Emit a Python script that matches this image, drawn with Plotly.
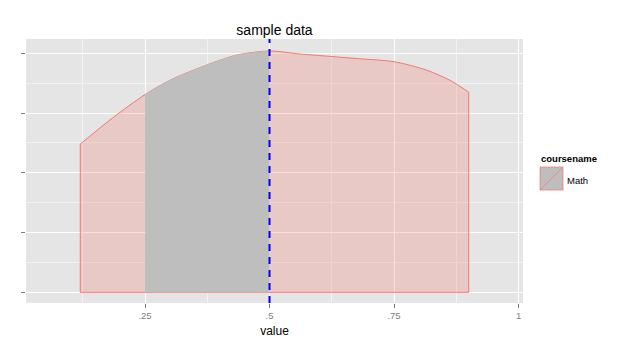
import plotly.graph_objects as go

# ---- data ----
curve_x = [0.12, 0.185, 0.25, 0.30, 0.366, 0.434, 0.50, 0.56, 0.62, 0.68, 0.75, 0.815, 0.862, 0.90]
curve_y = [2.48, 2.92, 3.31, 3.55, 3.78, 3.97, 4.04, 3.99, 3.95, 3.91, 3.86, 3.72, 3.55, 3.35]
shade_from = 0.25
shade_to = 0.50
vline_x = 0.50
x_tick_vals = [0.25, 0.5, 0.75, 1.0]
x_tick_text = [".25", ".5", ".75", "1"]
y_tick_vals = [0, 1, 2, 3, 4]
series_name = "Math"
legend_title = "coursename"

RED = "#F8766D"
GRAY = "#BEBEBE"

fig = go.Figure()

# density area under smooth curve
fig.add_trace(go.Scatter(x=curve_x, y=curve_y, mode="lines", fill="tozeroy",
                         fillcolor="rgba(248,118,109,0.25)",
                         line=dict(color=RED, width=1, shape="spline", smoothing=0.8),
                         showlegend=False, hoverinfo="skip"))
# outline: sides and bottom
fig.add_trace(go.Scatter(x=[curve_x[0], curve_x[0], curve_x[-1], curve_x[-1]],
                         y=[curve_y[0], 0, 0, curve_y[-1]], mode="lines",
                         line=dict(color=RED, width=1), showlegend=False,
                         hoverinfo="skip"))

# shaded region
sx = [x for x in curve_x if shade_from <= x <= shade_to]
sy = [y for x, y in zip(curve_x, curve_y) if shade_from <= x <= shade_to]
fig.add_trace(go.Scatter(x=sx, y=sy, mode="lines", fill="tozeroy",
                         fillcolor=GRAY,
                         line=dict(color=GRAY, width=0.5, shape="spline", smoothing=0.8),
                         showlegend=False, hoverinfo="skip"))

fig.add_vline(x=vline_x, line=dict(color="#0000FF", width=2, dash="7px,6px"))

FONT = "Liberation Sans, Arial, sans-serif"

fig.update_layout(
    width=637, height=349,
    margin=dict(l=26, r=114, t=39, b=46),
    paper_bgcolor="white", plot_bgcolor="#E5E5E5",
    font=dict(family=FONT, color="black"),
    title=dict(text="sample data", x=(26 + 523) / 2 / 637, xanchor="center",
               y=1 - 30 / 349, yanchor="middle", font=dict(size=14)),
    showlegend=False,
)
fig.update_xaxes(range=[0.011, 1.009], tickvals=x_tick_vals, ticktext=x_tick_text,
                 ticks="outside", ticklen=4, tickcolor="#7F7F7F", tickwidth=1,
                 tickfont=dict(size=9.5, color="#7F7F7F"),
                 showgrid=True, gridcolor="white", gridwidth=1, zeroline=False,
                 showline=False,
                 minor=dict(tickvals=[0.125, 0.375, 0.625, 0.875], showgrid=True,
                            gridcolor="#F2F2F2", gridwidth=0.6, ticks=""),
                 title=dict(text="value", font=dict(size=12), standoff=6))
fig.update_yaxes(range=[-0.179, 4.24], tickvals=y_tick_vals,
                 ticktext=[""] * len(y_tick_vals),
                 ticks="outside", ticklen=4, tickcolor="#7F7F7F", tickwidth=1,
                 showgrid=True, gridcolor="white", gridwidth=1, zeroline=False,
                 showline=False,
                 minor=dict(dtick=0.5, tick0=0, showgrid=True,
                            gridcolor="#F2F2F2", gridwidth=0.6, ticks=""))

# manual legend (paper coords from pixels)
def px(x):
    return (x - 26) / 497

def py(y):
    return (303 - y) / 264

fig.add_shape(type="rect", xref="paper", yref="paper",
              x0=px(540), x1=px(563), y0=py(190), y1=py(167),
              fillcolor=GRAY, line=dict(color="rgba(248,118,109,0.7)", width=1))
fig.add_shape(type="line", xref="paper", yref="paper",
              x0=px(540), x1=px(563), y0=py(190), y1=py(167),
              line=dict(color="rgba(248,118,109,0.7)", width=1))
fig.add_annotation(xref="paper", yref="paper", x=px(539), y=py(158),
                   xanchor="left", yanchor="middle", showarrow=False,
                   text="<b>" + legend_title + "</b>", font=dict(size=9.5))
fig.add_annotation(xref="paper", yref="paper", x=px(565), y=py(180),
                   xanchor="left", yanchor="middle", showarrow=False,
                   text=series_name, font=dict(size=9.5))

fig.write_html("out.html")
